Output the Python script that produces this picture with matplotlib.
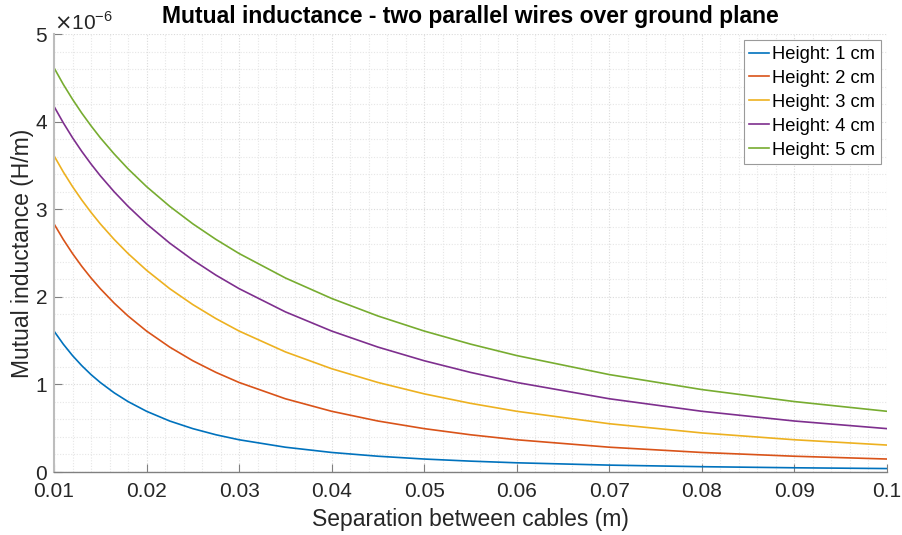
import numpy as np
import matplotlib.pyplot as plt
from matplotlib.ticker import MultipleLocator

plt.rcParams['font.family'] = ['Liberation Sans', 'DejaVu Sans']

# separation between cables (m)
sep = [0.01, 0.011, 0.012, 0.013, 0.014, 0.015, 0.0165, 0.018, 0.02, 0.0225,
       0.025, 0.0275, 0.03, 0.035, 0.04, 0.045, 0.05, 0.055, 0.06, 0.07,
       0.08, 0.09, 0.1]

# mutual inductance, units of 1e-6 H/m
h1 = [1.609, 1.460, 1.329, 1.214, 1.112, 1.022, 0.904, 0.804, 0.693, 0.582,
      0.495, 0.425, 0.368, 0.283, 0.223, 0.180, 0.148, 0.124, 0.105, 0.0785,
      0.0606, 0.0482, 0.0392]
h2 = [2.833, 2.655, 2.494, 2.348, 2.215, 2.093, 1.928, 1.781, 1.609, 1.426,
      1.270, 1.137, 1.022, 0.836, 0.693, 0.582, 0.495, 0.425, 0.368, 0.283,
      0.223, 0.180, 0.148]
h3 = [3.611, 3.426, 3.258, 3.105, 2.964, 2.833, 2.655, 2.494, 2.303, 2.093,
      1.911, 1.751, 1.609, 1.371, 1.179, 1.022, 0.892, 0.784, 0.693, 0.551,
      0.446, 0.368, 0.3075]
h4 = [4.174, 3.987, 3.816, 3.660, 3.516, 3.382, 3.199, 3.033, 2.833, 2.613,
      2.420, 2.247, 2.093, 1.828, 1.609, 1.426, 1.270, 1.137, 1.022, 0.836,
      0.693, 0.582, 0.495]
h5 = [4.615, 4.426, 4.255, 4.097, 3.952, 3.816, 3.631, 3.461, 3.258, 3.033,
      2.833, 2.655, 2.494, 2.215, 1.981, 1.781, 1.609, 1.460, 1.329, 1.112,
      0.941, 0.804, 0.693]

series = [h1, h2, h3, h4, h5]
labels = ['Height: 1 cm', 'Height: 2 cm', 'Height: 3 cm', 'Height: 4 cm', 'Height: 5 cm']
colors = ['#0072BD', '#D95319', '#EDB120', '#7E2F8E', '#77AC30']

fig = plt.figure(figsize=(9.02, 5.35), dpi=100)
ax = fig.add_axes([54 / 902, 1 - 472 / 535, (887 - 54) / 902, (472 - 34) / 535])

for vals, lab, col in zip(series, labels, colors):
    ax.plot(sep, np.array(vals) * 1e-6, color=col, lw=1.2, label=lab)

ax.set_xlim(0.01, 0.1)
ax.set_ylim(0, 5e-6)
ax.set_xticks(np.arange(0.01, 0.1001, 0.01))
ax.set_xticklabels(['0.01', '0.02', '0.03', '0.04', '0.05', '0.06', '0.07', '0.08', '0.09', '0.1'])
ax.set_yticks(np.arange(0, 5.01e-6, 1e-6))
ax.set_yticklabels(['0', '1', '2', '3', '4', '5'])
ax.xaxis.set_minor_locator(MultipleLocator(0.002))
ax.yaxis.set_minor_locator(MultipleLocator(0.2e-6))

ax.grid(True, which='major', color='#dadada', lw=0.8, ls=(0, (1, 1.5)))
ax.grid(True, which='minor', color='#e6e6e6', lw=0.8, ls=(0, (1, 1.5)))
ax.set_axisbelow(True)

for s in ['top', 'right']:
    ax.spines[s].set_visible(False)
ax.spines['left'].set_color('#bdbdbd')
ax.spines['left'].set_linewidth(1.5)
ax.spines['bottom'].set_color('#808080')
ax.spines['bottom'].set_linewidth(1.0)
ax.tick_params(which='major', direction='in', length=6, color='#808080',
               labelsize=15, labelcolor='#262626')
ax.tick_params(axis='x', pad=7)
ax.tick_params(axis='y', pad=5)
ax.tick_params(which='minor', length=0)

ax.text(0.0, 1.0, r'$\times$10$^{\mathregular{-6}}$', transform=ax.transAxes,
        fontsize=15, color='#262626', ha='left', va='bottom')

ax.set_xlabel('Separation between cables (m)', fontsize=16.5, color='#262626', labelpad=5)
ax.set_ylabel('Mutual inductance (H/m)', fontsize=16.5, color='#262626', labelpad=1)
ax.set_title('Mutual inductance - two parallel wires over ground plane',
             fontsize=16.5, fontweight='bold', color='black', pad=8)

leg = ax.legend(loc='upper right', fontsize=13.2, handlelength=1.1, handletextpad=0.15,
                borderpad=0.3, labelspacing=0.38, fancybox=False, framealpha=1,
                borderaxespad=0.35)
leg.get_frame().set_edgecolor('#9a9a9a')
leg.get_frame().set_linewidth(0.8)

plt.savefig('out.png', dpi=100)
